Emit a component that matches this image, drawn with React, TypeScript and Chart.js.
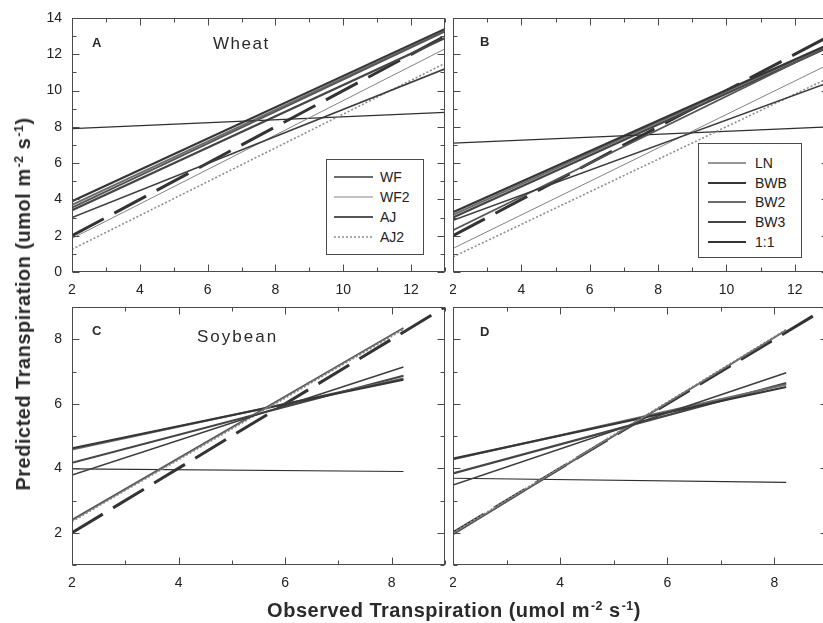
import React, { useEffect, useRef } from "react";
import { Chart, registerables } from "chart.js";

Chart.register(...registerables);

const FONT = "'Liberation Sans', Arial, sans-serif";

// Transpiration models, in drawing / legend order
const MODELS = ["WF", "WF2", "AJ", "AJ2", "LN", "BWB", "BW2", "BW3", "1:1"];

// Observed-transpiration span covered by the fitted lines
const wheatObsRange = [2, 13];
const soyObsRange = [2, 8.22];
const soyOneToOneRange = [2, 9];

// Predicted transpiration at the low / high end of the observed span (MODELS order)
const wheatA_low = [3.0, 1.85, 3.55, 1.25, 7.9, 3.9, 3.7, 3.4, 2];
const wheatA_high = [11.2, 12.3, 13.25, 11.5, 8.8, 13.4, 13.3, 12.9, 13];
const wheatB_low = [2.85, 1.3, 2.3, 0.83, 7.1, 3.3, 3.15, 3.0, 2];
const wheatB_high = [10.45, 11.45, 12.45, 10.7, 8.0, 12.55, 12.5, 12.4, 13];
const soyC_low = [3.79, 2.37, 2.4, 2.35, 3.98, 4.62, 4.58, 4.17, 2];
const soyC_high = [7.14, 8.33, 8.35, 8.3, 3.9, 6.75, 6.78, 6.87, 9];
const soyD_low = [3.48, 1.98, 1.95, 2.0, 3.69, 4.3, 4.28, 3.84, 2];
const soyD_high = [6.96, 8.28, 8.28, 8.3, 3.56, 6.52, 6.6, 6.64, 9];

// Axis tick values
const wheatXTicks = [2, 4, 6, 8, 10, 12];
const wheatYTicks = [0, 2, 4, 6, 8, 10, 12, 14];
const soyXTicks = [2, 4, 6, 8];
const soyYTicks = [2, 4, 6, 8];

// Line styles per model (MODELS order)
const LINE_COLORS = ["#3d3d3d", "#828282", "#555555", "#8e8e8e", "#2f2f2f", "#363636", "#6c6c6c", "#454545", "#333333"];
const LINE_WIDTHS = [1.6, 1, 1.8, 1.6, 1.2, 2.2, 2, 2.2, 3];
const LINE_DASHES: number[][] = [[], [], [], [2, 2], [], [], [], [], [36, 12]];

function makeDatasets(low: number[], high: number[], range: number[], oneRange: number[]) {
  return MODELS.map((name, i) => {
    const r = name === "1:1" ? oneRange : range;
    return {
      label: name,
      data: [
        { x: r[0], y: low[i] },
        { x: r[1], y: high[i] },
      ],
      borderColor: LINE_COLORS[i],
      borderWidth: LINE_WIDTHS[i],
      borderDash: LINE_DASHES[i],
      pointRadius: 0,
      fill: false,
      tension: 0,
    };
  });
}

// Frame around the plot area with inward-pointing major and minor ticks on all four sides
const frameTicks = {
  id: "frameTicks",
  afterDatasetsDraw(chart: any) {
    const { ctx, chartArea: a, scales } = chart;
    const sx = scales.x;
    const sy = scales.y;
    const L = Math.round(a.left) + 0.5;
    const R = Math.round(a.right) - 0.5;
    const T = Math.round(a.top) + 0.5;
    const B = Math.round(a.bottom) - 0.5;
    ctx.save();
    ctx.strokeStyle = "#4a4a4a";
    ctx.lineWidth = 1;
    ctx.setLineDash([]);
    ctx.strokeRect(L, T, R - L, B - T);
    const marks = (scale: any) => {
      const majors = scale.ticks.map((t: any) => t.value);
      const step = majors[1] - majors[0];
      const minors: number[] = [];
      for (let v = majors[0] - step / 2; v <= scale.max + 1e-9; v += step) {
        if (v >= scale.min - 1e-9) minors.push(v);
      }
      return [
        ...majors.map((v: number) => [v, 7]),
        ...minors.map((v) => [v, 4]),
      ];
    };
    ctx.beginPath();
    for (const [v, len] of marks(sx)) {
      const p = Math.round(sx.getPixelForValue(v)) + 0.5;
      ctx.moveTo(p, B);
      ctx.lineTo(p, B - len);
      ctx.moveTo(p, T);
      ctx.lineTo(p, T + len);
    }
    for (const [v, len] of marks(sy)) {
      const p = Math.round(sy.getPixelForValue(v)) + 0.5;
      ctx.moveTo(L, p);
      ctx.lineTo(L + len, p);
      ctx.moveTo(R, p);
      ctx.lineTo(R - len, p);
    }
    ctx.stroke();
    ctx.restore();
  },
};

type PanelProps = {
  left: number;
  top: number;
  width: number;
  height: number;
  padding: { left: number; top: number; right: number; bottom: number };
  yWidth: number;
  xHeight: number;
  showY: boolean;
  xMin: number;
  xMax: number;
  yMin: number;
  yMax: number;
  xTicks: number[];
  yTicks: number[];
  datasets: any[];
};

function Panel(p: PanelProps) {
  const ref = useRef<HTMLCanvasElement | null>(null);
  useEffect(() => {
    if (!ref.current) return;
    const tickFont = { family: FONT, size: 14 };
    const chart = new Chart(ref.current, {
      type: "line",
      data: { datasets: p.datasets },
      plugins: [frameTicks],
      options: {
        responsive: false,
        animation: false,
        events: [],
        layout: { padding: p.padding },
        plugins: { legend: { display: false }, tooltip: { enabled: false } },
        scales: {
          x: {
            type: "linear",
            min: p.xMin,
            max: p.xMax,
            grid: { display: false, drawTicks: false },
            border: { display: false },
            afterBuildTicks: (s: any) => {
              s.ticks = p.xTicks.map((v) => ({ value: v }));
            },
            afterFit: (s: any) => {
              s.height = p.xHeight;
              s.paddingLeft = 0;
              s.paddingRight = 0;
            },
            ticks: {
              padding: 10,
              color: "#222",
              font: tickFont,
              maxRotation: 0,
              autoSkip: false,
            },
          },
          y: {
            type: "linear",
            min: p.yMin,
            max: p.yMax,
            grid: { display: false, drawTicks: false },
            border: { display: false },
            afterBuildTicks: (s: any) => {
              s.ticks = p.yTicks.map((v) => ({ value: v }));
            },
            afterFit: (s: any) => {
              s.width = p.yWidth;
              s.paddingTop = 0;
              s.paddingBottom = 0;
            },
            ticks: {
              display: p.showY,
              padding: 10,
              color: "#222",
              font: tickFont,
              autoSkip: false,
            },
          },
        },
      } as any,
    });
    return () => chart.destroy();
  }, []);
  return (
    <canvas
      ref={ref}
      width={p.width}
      height={p.height}
      style={{ position: "absolute", left: p.left, top: p.top, width: p.width, height: p.height }}
    />
  );
}

function Legend({ left, top, width, height, names, rows, sampleLeft, sampleWidth, textLeft }: any) {
  return (
    <div
      style={{
        position: "absolute",
        left,
        top,
        width,
        height,
        border: "1px solid #4a4a4a",
        background: "#fff",
        boxSizing: "border-box",
      }}
    >
      {names.map((name: string, k: number) => {
        const i = MODELS.indexOf(name);
        return (
          <div key={name}>
            <svg
              width={sampleWidth}
              height={6}
              style={{ position: "absolute", left: sampleLeft, top: rows[k] - 3 }}
            >
              <line
                x1={0}
                y1={3}
                x2={sampleWidth}
                y2={3}
                stroke={LINE_COLORS[i]}
                strokeWidth={Math.min(LINE_WIDTHS[i], 2.2)}
                strokeDasharray={name === "1:1" ? undefined : LINE_DASHES[i].join(" ") || undefined}
              />
            </svg>
            <div
              style={{
                position: "absolute",
                left: textLeft,
                top: rows[k] - 8,
                fontSize: 14,
                lineHeight: "16px",
                color: "#222",
                whiteSpace: "nowrap",
              }}
            >
              {name}
            </div>
          </div>
        );
      })}
    </div>
  );
}

function Label({ left, top, size, bold, text, spacing }: any) {
  return (
    <div
      style={{
        position: "absolute",
        left,
        top,
        fontSize: size,
        lineHeight: 1,
        fontWeight: bold ? "bold" : "normal",
        letterSpacing: spacing || 0,
        color: "#2a2a2a",
        whiteSpace: "nowrap",
      }}
    >
      {text}
    </div>
  );
}

const sup: React.CSSProperties = { fontSize: "0.62em", verticalAlign: "0.55em", marginLeft: 1 };

export default function App() {
  return (
    <div
      style={{
        position: "absolute",
        left: 0,
        top: 0,
        width: 823,
        height: 623,
        overflow: "hidden",
        background: "#fff",
        fontFamily: FONT,
      }}
    >
      <Panel
        left={0}
        top={0}
        width={450}
        height={300}
        padding={{ left: 0, top: 18, right: 5, bottom: 0 }}
        yWidth={72}
        xHeight={28}
        showY={true}
        xMin={2}
        xMax={13}
        yMin={0}
        yMax={14}
        xTicks={wheatXTicks}
        yTicks={wheatYTicks}
        datasets={makeDatasets(wheatA_low, wheatA_high, wheatObsRange, wheatObsRange)}
      />
      <Panel
        left={450}
        top={0}
        width={390}
        height={300}
        padding={{ left: 3, top: 18, right: 11, bottom: 0 }}
        yWidth={0}
        xHeight={28}
        showY={false}
        xMin={2}
        xMax={13}
        yMin={0}
        yMax={14}
        xTicks={wheatXTicks}
        yTicks={wheatYTicks}
        datasets={makeDatasets(wheatB_low, wheatB_high, wheatObsRange, wheatObsRange)}
      />
      <Panel
        left={0}
        top={300}
        width={450}
        height={323}
        padding={{ left: 0, top: 7, right: 5, bottom: 0 }}
        yWidth={72}
        xHeight={58}
        showY={true}
        xMin={2}
        xMax={9}
        yMin={1}
        yMax={9}
        xTicks={soyXTicks}
        yTicks={soyYTicks}
        datasets={makeDatasets(soyC_low, soyC_high, soyObsRange, soyOneToOneRange)}
      />
      <Panel
        left={450}
        top={300}
        width={390}
        height={323}
        padding={{ left: 3, top: 7, right: 12, bottom: 0 }}
        yWidth={0}
        xHeight={58}
        showY={false}
        xMin={2}
        xMax={9}
        yMin={1}
        yMax={9}
        xTicks={soyXTicks}
        yTicks={soyYTicks}
        datasets={makeDatasets(soyD_low, soyD_high, soyObsRange, soyOneToOneRange)}
      />

      <Label left={92} top={36} size={13} bold text="A" />
      <Label left={480} top={35} size={13} bold text="B" />
      <Label left={92} top={324} size={13} bold text="C" />
      <Label left={480} top={325} size={13} bold text="D" />
      <Label left={213} top={35} size={17} text="Wheat" spacing={1.5} />
      <Label left={197} top={328} size={17} text="Soybean" spacing={2} />

      <Legend
        left={326}
        top={159}
        width={98}
        height={96}
        names={["WF", "WF2", "AJ", "AJ2"]}
        rows={[17, 37, 57, 77]}
        sampleLeft={7}
        sampleWidth={39}
        textLeft={53}
      />
      <Legend
        left={698}
        top={143}
        width={104}
        height={115}
        names={["LN", "BWB", "BW2", "BW3", "1:1"]}
        rows={[19, 39, 58, 78, 98]}
        sampleLeft={9}
        sampleWidth={38}
        textLeft={56}
      />

      <div
        style={{
          position: "absolute",
          left: 454,
          top: 610,
          transform: "translate(-50%, -50%)",
          fontSize: 20,
          fontWeight: "bold",
          letterSpacing: 0.5,
          color: "#2a2a2a",
          whiteSpace: "nowrap",
          lineHeight: 1,
        }}
      >
        Observed Transpiration (umol m<span style={sup}>-2</span> s<span style={sup}>-1</span>)
      </div>
      <div
        style={{
          position: "absolute",
          left: 23,
          top: 304,
          transform: "translate(-50%, -50%) rotate(-90deg)",
          fontSize: 20,
          fontWeight: "bold",
          letterSpacing: 0.5,
          color: "#2a2a2a",
          whiteSpace: "nowrap",
          lineHeight: 1,
        }}
      >
        Predicted Transpiration (umol m<span style={sup}>-2</span> s<span style={sup}>-1</span>)
      </div>
    </div>
  );
}
